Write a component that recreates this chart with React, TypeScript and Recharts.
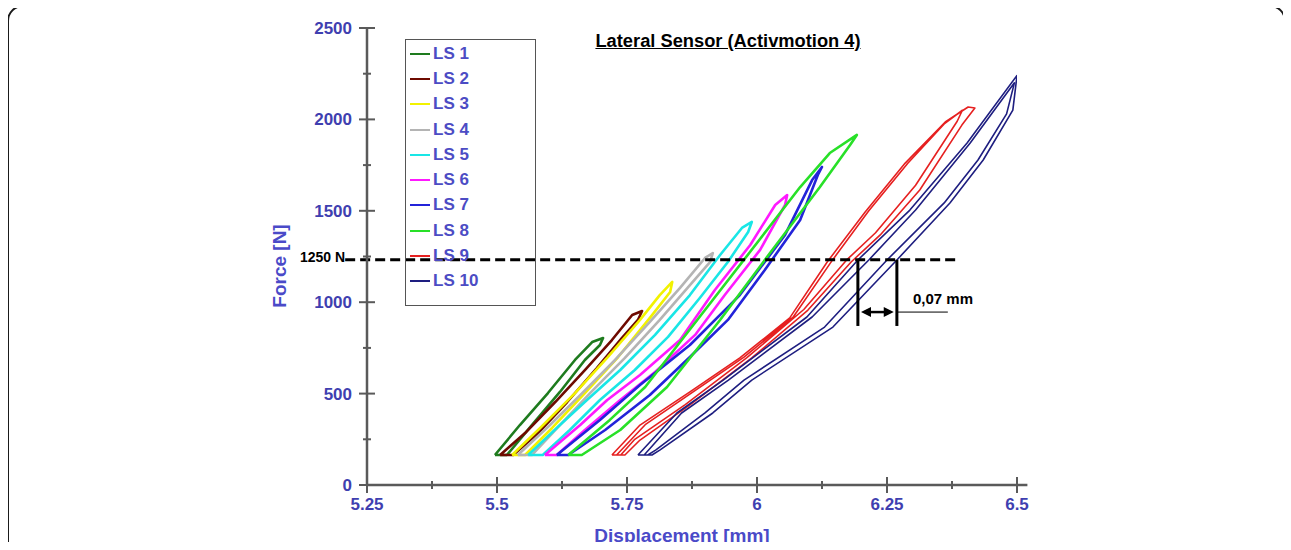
import React from 'react';
import { LineChart, Line, XAxis, YAxis, ReferenceLine, Legend } from 'recharts';

// displacement [mm], force [N] — hysteresis loops per sensor run (load up, unload down)
const LS1: [number, number][] = [[5.496,164],[5.544,328],[5.598,503],[5.650,684],[5.683,782],[5.704,804],[5.698,766],[5.669,684],[5.621,509],[5.567,328],[5.519,164],[5.496,164]];
const LS2: [number, number][] = [[5.506,164],[5.554,284],[5.612,454],[5.669,629],[5.721,793],[5.760,930],[5.779,952],[5.771,903],[5.740,804],[5.692,640],[5.635,454],[5.579,284],[5.531,164],[5.506,164]];
const LS3: [number, number][] = [[5.529,164],[5.583,312],[5.650,503],[5.713,700],[5.775,903],[5.813,1039],[5.837,1111],[5.833,1056],[5.794,914],[5.733,700],[5.669,503],[5.606,312],[5.554,164],[5.529,164]];
const LS4: [number, number][] = [[5.540,164],[5.602,328],[5.660,492],[5.727,684],[5.794,892],[5.852,1078],[5.900,1242],[5.915,1269],[5.910,1220],[5.871,1094],[5.813,903],[5.746,695],[5.679,503],[5.621,328],[5.567,164],[5.540,164]];
const LS5: [number, number][] = [[5.560,164],[5.621,328],[5.673,465],[5.737,629],[5.804,821],[5.871,1039],[5.929,1258],[5.971,1406],[5.990,1439],[5.983,1384],[5.944,1220],[5.890,1023],[5.829,810],[5.765,629],[5.698,465],[5.640,301],[5.588,164],[5.560,164]];
const LS6: [number, number][] = [[5.592,164],[5.660,328],[5.712,465],[5.775,602],[5.852,793],[5.919,1067],[5.987,1313],[6.035,1532],[6.058,1586],[6.054,1532],[6.006,1286],[5.938,1039],[5.881,821],[5.804,618],[5.737,465],[5.669,301],[5.615,164],[5.592,164]];
const LS7: [number, number][] = [[5.615,164],[5.698,356],[5.775,547],[5.871,766],[5.967,1039],[6.054,1368],[6.106,1668],[6.125,1740],[6.117,1696],[6.083,1450],[6.015,1176],[5.944,903],[5.871,700],[5.794,492],[5.708,301],[5.637,164],[5.615,164]];
const LS8: [number, number][] = [[5.637,164],[5.717,356],[5.785,536],[5.885,903],[5.985,1269],[6.083,1630],[6.140,1816],[6.192,1915],[6.179,1860],[6.121,1630],[6.025,1269],[5.929,903],[5.827,536],[5.737,301],[5.663,164],[5.637,164]];
const LS9: [number, number][] = [
  [5.721,164],[5.775,328],[5.871,509],[5.967,695],[6.063,914],[6.135,1220],[6.208,1493],[6.285,1761],[6.362,1986],[6.406,2068],[6.419,2062],[6.394,1969],[6.313,1614],[6.237,1368],[6.181,1220],[6.098,957],[5.990,695],[5.871,438],[5.775,246],[5.746,164],
  [5.730,164],[5.785,330],[5.880,515],[5.975,700],[6.070,920],[6.145,1230],[6.215,1500],[6.290,1760],[6.360,1975],[6.395,2050],[6.385,1990],[6.305,1640],[6.228,1380],[6.172,1230],[6.090,960],[5.980,695],[5.862,440],[5.765,250],[5.738,164],[5.721,164],
];
const LS10: [number, number][] = [
  [5.771,164],[5.846,394],[5.935,574],[6.096,919],[6.194,1231],[6.294,1504],[6.404,1871],[6.500,2240],[6.492,2051],[6.435,1778],[6.371,1543],[6.269,1231],[6.146,864],[5.990,574],[5.915,394],[5.813,191],[5.798,164],
  [5.783,164],[5.855,394],[5.945,574],[6.106,919],[6.215,1231],[6.305,1504],[6.410,1871],[6.495,2200],[6.480,2030],[6.425,1778],[6.360,1543],[6.250,1231],[6.130,864],[5.975,574],[5.900,394],[5.805,191],[5.790,164],[5.771,164],
];

const SERIES_NAMES = ['LS 1', 'LS 2', 'LS 3', 'LS 4', 'LS 5', 'LS 6', 'LS 7', 'LS 8', 'LS 9', 'LS 10'];
const SERIES_COLORS = ['#1e7b1e', '#6e0a00', '#f2f200', '#b4b4b4', '#19e6e6', '#ff19ff', '#2323d9', '#28e028', '#e62020', '#1e1e80'];
const SERIES_DATA = [LS1, LS2, LS3, LS4, LS5, LS6, LS7, LS8, LS9, LS10];

const DISP_TICKS = [5.25, 5.375, 5.5, 5.625, 5.75, 5.875, 6, 6.125, 6.25, 6.375, 6.5];
const FORCE_TICKS = [0, 250, 500, 750, 1000, 1250, 1500, 1750, 2000, 2250, 2500];

// annotation values
const LEVEL_FORCE = 1232;
const GAP_LEFT = 6.194;
const GAP_RIGHT = 6.269;
const ARROW_FORCE = 946;

const FONT = '"Liberation Sans", Arial, sans-serif';
const AXIS = '#5a5a5a';
const BLUE = '#3f3fb0';

const toRows = (pts: [number, number][]) => pts.map(([disp, force]) => ({ disp, force }));

const XTick = ({ x, y, payload }: any) => {
  const v = payload.value;
  const major = Math.abs(v * 4 - Math.round(v * 4)) < 1e-6;
  const len = major ? 8 : 4;
  return (
    <g>
      <line x1={x} x2={x} y1={y - len} y2={y + len} stroke={AXIS} strokeWidth={2} />
      {major && (
        <text x={x} y={y + 25} textAnchor="middle" fill={BLUE} fontSize={17} fontWeight="bold" fontFamily={FONT}>
          {String(v)}
        </text>
      )}
    </g>
  );
};

const YTick = ({ x, y, payload }: any) => {
  const v = payload.value;
  const major = v % 500 === 0;
  const len = major ? 8 : 4;
  return (
    <g>
      <line x1={x - len} x2={x + len} y1={y} y2={y} stroke={AXIS} strokeWidth={2} />
      {major && (
        <text x={x - 15} y={y} dy={6} textAnchor="end" fill={BLUE} fontSize={17} fontWeight="bold" fontFamily={FONT}>
          {v}
        </text>
      )}
    </g>
  );
};

const DoubleArrow = (p: any) => {
  const { x1, y1, x2 } = p;
  const l = Math.min(x1, x2);
  const r = Math.max(x1, x2);
  return (
    <g>
      <line x1={l + 6} x2={r - 6} y1={y1} y2={y1} stroke="#000" strokeWidth={2.5} />
      <polygon points={`${l},${y1} ${l + 10},${y1 - 5} ${l + 10},${y1 + 5}`} fill="#000" />
      <polygon points={`${r},${y1} ${r - 10},${y1 - 5} ${r - 10},${y1 + 5}`} fill="#000" />
    </g>
  );
};

const renderLegend = (props: any) => {
  const items = [...(props.payload || [])].sort(
    (a: any, b: any) => SERIES_NAMES.indexOf(a.value) - SERIES_NAMES.indexOf(b.value),
  );
  return (
    <div style={{ border: '1px solid #555', width: 131, height: 267, boxSizing: 'border-box', paddingTop: 1, fontFamily: FONT }}>
      {items.map((e: any) => (
        <div key={e.value} style={{ height: 25.3, display: 'flex', alignItems: 'center' }}>
          <span style={{ display: 'inline-block', width: 20, height: 2, background: e.color, marginLeft: 4, marginRight: 3 }} />
          <span style={{ color: '#4c4cc4', fontSize: 17, fontWeight: 'bold' }}>{e.value}</span>
        </div>
      ))}
    </div>
  );
};

export default function App() {
  return (
    <div style={{ position: 'relative', width: 1275, height: 534, fontFamily: FONT }}>
      <style>{'html,body{overflow:hidden}'}</style>
      <svg
        width={1291}
        height={560}
        style={{ position: 'absolute', left: -8, top: -8, pointerEvents: 'none' }}
      >
        <rect x={8} y={6} width={1277} height={600} rx={15} ry={15} fill="none" stroke="#1a1a1a" strokeWidth={2} />
      </svg>
      <div style={{ position: 'absolute', left: 0, top: 0 }}>
        <LineChart width={1100} height={540} margin={{ top: 20, right: 91, left: 299, bottom: 33 }}>
          <XAxis
            type="number"
            dataKey="disp"
            domain={[5.25, 6.5]}
            ticks={DISP_TICKS}
            interval={0}
            allowDataOverflow
            height={30}
            tickSize={0}
            tickMargin={0}
            tick={<XTick />}
            axisLine={{ stroke: AXIS, strokeWidth: 2.5 }}
          />
          <YAxis
            type="number"
            dataKey="force"
            domain={[0, 2500]}
            ticks={FORCE_TICKS}
            interval={0}
            allowDataOverflow
            width={60}
            tickSize={0}
            tickMargin={0}
            tick={<YTick />}
            axisLine={{ stroke: AXIS, strokeWidth: 2.5 }}
          />
          <Legend
            layout="vertical"
            align="center"
            verticalAlign="middle"
            wrapperStyle={{ left: 397, top: 31, width: 131, height: 267 }}
            content={renderLegend}
          />
          {SERIES_DATA.map((pts, i) => (
            <Line
              key={SERIES_NAMES[i]}
              name={SERIES_NAMES[i]}
              data={toRows(pts)}
              dataKey="force"
              type="linear"
              stroke={SERIES_COLORS[i]}
              strokeWidth={i >= 8 ? 1.6 : 2.6}
              strokeLinejoin="round"
              dot={false}
              activeDot={false}
              isAnimationActive={false}
            />
          ))}
          <ReferenceLine
            segment={[{ x: 6.5, y: 0 }, { x: 6.52, y: 0 }]}
            ifOverflow="visible"
            stroke={AXIS}
            strokeWidth={2.5}
          />
          <ReferenceLine
            segment={[{ x: 5.208, y: LEVEL_FORCE }, { x: 6.39, y: LEVEL_FORCE }]}
            ifOverflow="visible"
            stroke="#000"
            strokeWidth={3}
            strokeDasharray="10 5"
          />
          <ReferenceLine
            segment={[{ x: GAP_LEFT, y: LEVEL_FORCE }, { x: GAP_LEFT, y: 870 }]}
            ifOverflow="visible"
            stroke="#000"
            strokeWidth={3}
          />
          <ReferenceLine
            segment={[{ x: GAP_RIGHT, y: LEVEL_FORCE }, { x: GAP_RIGHT, y: 870 }]}
            ifOverflow="visible"
            stroke="#000"
            strokeWidth={3}
          />
          <ReferenceLine
            segment={[{ x: GAP_RIGHT, y: ARROW_FORCE }, { x: 6.367, y: ARROW_FORCE }]}
            ifOverflow="visible"
            stroke="#000"
            strokeWidth={1}
          />
          <ReferenceLine
            segment={[{ x: GAP_LEFT + 0.006, y: ARROW_FORCE }, { x: GAP_RIGHT - 0.006, y: ARROW_FORCE }]}
            ifOverflow="visible"
            shape={DoubleArrow}
          />
        </LineChart>
      </div>
      <div
        style={{
          position: 'absolute',
          left: 720,
          top: 33,
          transform: 'translate(-50%, -50%)',
          whiteSpace: 'nowrap',
          fontWeight: 'bold',
          fontSize: 18.3,
          textDecoration: 'underline',
          color: '#000',
        }}
      >
        Lateral Sensor (Activmotion 4)
      </div>
      <div style={{ position: 'absolute', left: 292, top: 249, transform: 'translateY(-50%)', fontWeight: 'bold', fontSize: 14, color: '#000', whiteSpace: 'nowrap' }}>
        1250 N
      </div>
      <div style={{ position: 'absolute', left: 905, top: 290, transform: 'translateY(-50%)', fontWeight: 'bold', fontSize: 15, color: '#000', whiteSpace: 'nowrap' }}>
        0,07 mm
      </div>
      <div
        style={{
          position: 'absolute',
          left: 272,
          top: 258,
          transform: 'translate(-50%, -50%) rotate(-90deg)',
          whiteSpace: 'nowrap',
          fontWeight: 'bold',
          fontSize: 19,
          color: '#4a4ac8',
        }}
      >
        Force [N]
      </div>
      <div
        style={{
          position: 'absolute',
          left: 674,
          top: 528,
          transform: 'translate(-50%, -50%)',
          whiteSpace: 'nowrap',
          fontWeight: 'bold',
          fontSize: 19,
          color: '#4a4ac8',
        }}
      >
        Displacement [mm]
      </div>
    </div>
  );
}
